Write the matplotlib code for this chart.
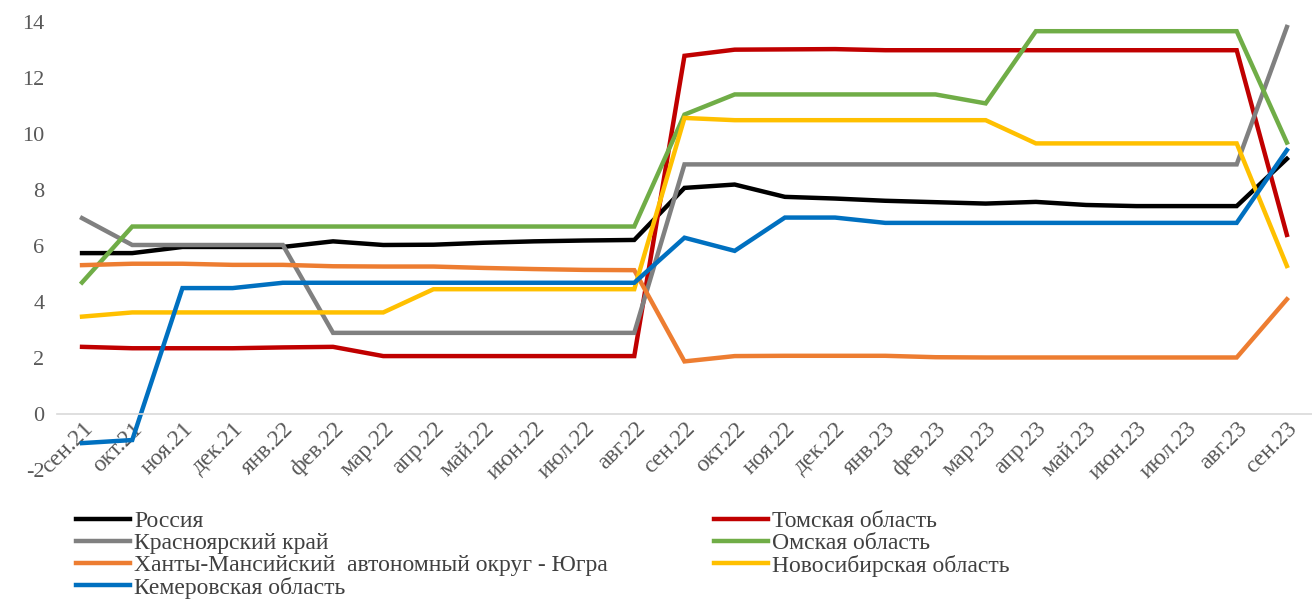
import matplotlib
matplotlib.use('Agg')
import matplotlib.pyplot as plt
import numpy as np

plt.rcParams['font.family'] = ['Liberation Serif', 'DejaVu Serif']

months = ['сен.21', 'окт.21', 'ноя.21', 'дек.21', 'янв.22', 'фев.22', 'мар.22',
          'апр.22', 'май.22', 'июн.22', 'июл.22', 'авг.22', 'сен.22', 'окт.22',
          'ноя.22', 'дек.22', 'янв.23', 'фев.23', 'мар.23', 'апр.23', 'май.23',
          'июн.23', 'июл.23', 'авг.23', 'сен.23']

russia = [5.75, 5.75, 5.97, 5.97, 5.97, 6.17, 6.04, 6.05, 6.12, 6.17, 6.2, 6.22,
          8.08, 8.2, 7.76, 7.7, 7.62, 7.57, 7.52, 7.58, 7.47, 7.43, 7.43, 7.43, 9.12]
tomsk = [2.4, 2.35, 2.35, 2.35, 2.38, 2.4, 2.07, 2.07, 2.07, 2.07, 2.07, 2.07,
         12.8, 13.02, 13.03, 13.04, 13.0, 13.0, 13.0, 13.0, 13.0, 13.0, 13.0, 13.0, 6.4]
krasnoyarsk = [7.0, 6.04, 6.04, 6.04, 6.04, 2.9, 2.9, 2.9, 2.9, 2.9, 2.9, 2.9,
               8.92, 8.92, 8.92, 8.92, 8.92, 8.92, 8.92, 8.92, 8.92, 8.92, 8.92, 8.92, 13.83]
omsk = [4.7, 6.7, 6.7, 6.7, 6.7, 6.7, 6.7, 6.7, 6.7, 6.7, 6.7, 6.7,
        10.7, 11.42, 11.42, 11.42, 11.42, 11.42, 11.1, 13.68, 13.68, 13.68, 13.68, 13.68, 9.7]
hmao = [5.32, 5.37, 5.37, 5.33, 5.33, 5.28, 5.27, 5.27, 5.22, 5.18, 5.15, 5.14,
        1.88, 2.07, 2.08, 2.08, 2.08, 2.03, 2.02, 2.02, 2.02, 2.02, 2.02, 2.02, 4.1]
novosib = [3.48, 3.63, 3.63, 3.63, 3.63, 3.63, 3.63, 4.46, 4.46, 4.46, 4.46, 4.46,
           10.58, 10.5, 10.5, 10.5, 10.5, 10.5, 10.5, 9.67, 9.67, 9.67, 9.67, 9.67, 5.29]
kemerovo = [-1.04, -0.93, 4.5, 4.5, 4.69, 4.69, 4.69, 4.69, 4.69, 4.69, 4.69, 4.69,
            6.3, 5.83, 7.02, 7.02, 6.83, 6.83, 6.83, 6.83, 6.83, 6.83, 6.83, 6.83, 9.43]

series = [
    ('Россия', russia, '#000000'),
    ('Томская область', tomsk, '#C00000'),
    ('Красноярский край', krasnoyarsk, '#808080'),
    ('Омская область', omsk, '#70AD47'),
    ('Ханты-Мансийский  автономный округ - Югра', hmao, '#ED7D31'),
    ('Новосибирская область', novosib, '#FFC000'),
    ('Кемеровская область', kemerovo, '#0070C0'),
]

fig = plt.figure(figsize=(13.12, 6.01), dpi=100)
ax = fig.add_axes([0.0434, 0.218, 0.9566, 0.745])

x = np.arange(len(months))
lines = {}
for name, vals, col in series:
    ln, = ax.plot(x, vals, color=col, linewidth=3.2, solid_joinstyle='miter',
                  label=name, clip_on=False)
    lines[name] = ln

ax.set_xlim(-0.5, len(months) - 0.5)
ax.set_ylim(-2, 14)
ax.set_yticks(range(-2, 15, 2))
ax.set_yticklabels([str(v) for v in range(-2, 15, 2)])

for s in ['top', 'right', 'left']:
    ax.spines[s].set_visible(False)
ax.spines['bottom'].set_position(('data', 0))
ax.spines['bottom'].set_color('#D9D9D9')
ax.spines['bottom'].set_linewidth(1.2)
ax.tick_params(axis='both', length=0, labelsize=16, colors='#595959')
ax.tick_params(axis='x', labelsize=17)
ax.tick_params(axis='y', pad=9)
ax.tick_params(axis='x', pad=3)

ax.set_xticks(x)
ax.set_xticklabels(months)
for lab in ax.get_xticklabels():
    lab.set_rotation(45)
    lab.set_ha('right')
    lab.set_va('top')
    lab.set_rotation_mode('anchor')

# legend in two columns, laid out by hand
col1 = ['Россия', 'Красноярский край', 'Ханты-Мансийский  автономный округ - Югра',
        'Кемеровская область']
col2 = ['Томская область', 'Омская область', 'Новосибирская область']
leg_kw = dict(frameon=False, fontsize=17, handlelength=2.3, handletextpad=0.15,
              labelspacing=0.02, borderpad=0, labelcolor='#404040')
leg1 = fig.legend([lines[n] for n in col1], col1, loc='upper left',
                  bbox_to_anchor=(0.049, 0.17), **leg_kw)
leg2 = fig.legend([lines[n] for n in col2], col2, loc='upper left',
                  bbox_to_anchor=(0.535, 0.17), **leg_kw)

fig.savefig('out.png', dpi=100)
